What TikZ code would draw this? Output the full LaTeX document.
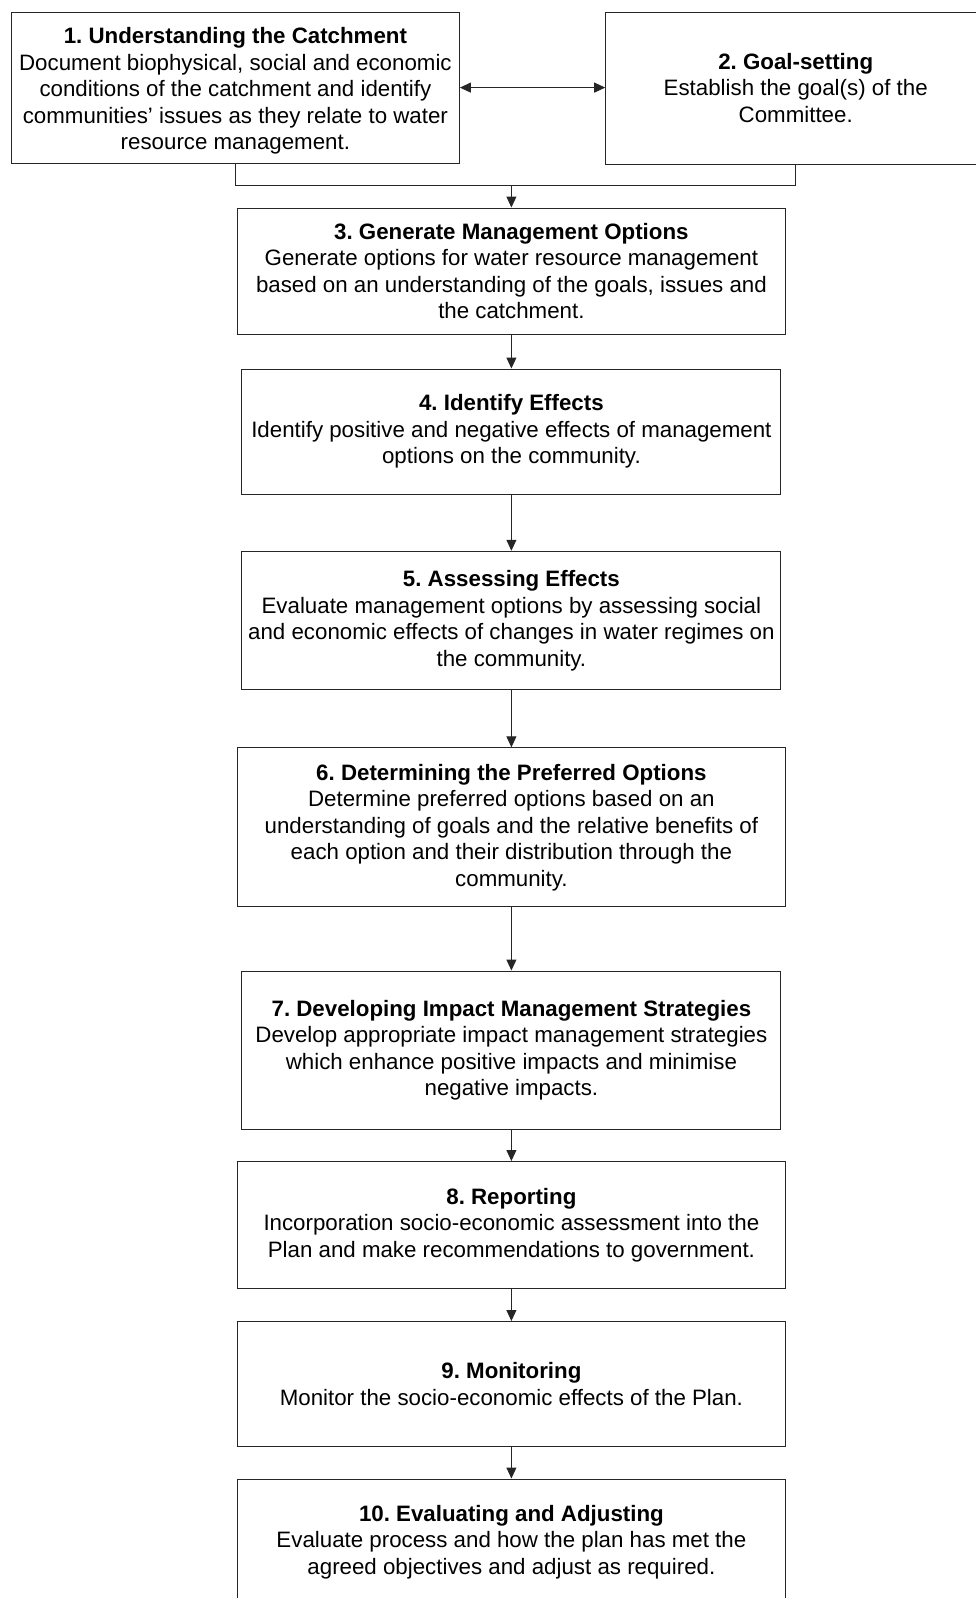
\documentclass[tikz,border=0pt]{standalone}
\usepackage{fontspec}
\setmainfont{Liberation Sans}
\usetikzlibrary{arrows.meta,positioning}
\frenchspacing

\begin{document}
\begin{tikzpicture}[
    x=1pt, y=-1pt,
    >={Triangle[length=11pt,width=10pt]},
    font=\fontsize{22.3}{26.5}\selectfont,
    stage/.style={
        draw=black!85,
        line width=1pt,
        fill=white,
        minimum width=548pt,
        minimum height=126pt,
        align=center,
        inner sep=0pt
    },
    narrow/.style={stage, minimum width=539pt},
    link/.style={draw=black!85, line width=1pt}
]
\useasboundingbox (0,0) rectangle (975,1598);
\fill[white] (0,0) rectangle (975,1598);

% top row
\node[stage, minimum width=448pt, minimum height=151pt] (catch) at (235.4,87.6)
{\\[-4pt]\textbf{1. Understanding the Catchment}\\Document biophysical, social and economic\\conditions of the catchment and identify\\communities’ issues as they relate to water\\resource management.};
\node[stage, minimum width=380pt, minimum height=152pt] (goal) at (795.7,88)
{\textbf{2. Goal-setting}\\Establish the goal(s) of the\\Committee.};

% main column
\node[stage] (opts) at (511.4,271)
{\textbf{3. Generate Management Options}\\Generate options for water resource management\\based on an understanding of the goals, issues and\\the catchment.};
\node[narrow, minimum height=125pt] (ident) at (511.4,431.5)
{\textbf{4. Identify Effects}\\Identify positive and negative effects of management\\options on the community.};
\node[narrow, minimum height=138.5pt] (assess) at (511.4,620.5)
{\textbf{5. Assessing Effects}\\Evaluate management options by assessing social\\and economic effects of changes in water regimes on\\the community.};
\node[stage, minimum height=159pt] (pref) at (511.4,827.3)
{\textbf{6. Determining the Preferred Options}\\Determine preferred options based on an\\understanding of goals and the relative benefits of\\each option and their distribution through the\\community.};
\node[narrow, minimum height=158pt] (strat) at (511.4,1050)
{\textbf{7. Developing Impact Management Strategies}\\Develop appropriate impact management strategies\\which enhance positive impacts and minimise\\negative impacts.};
\node[stage, minimum height=127pt] (report) at (511.4,1225)
{\textbf{8. Reporting}\\Incorporation socio-economic assessment into the\\Plan and make recommendations to government.};
\node[stage, minimum height=125pt] (monit) at (511.4,1384)
{\textbf{9. Monitoring}\\Monitor the socio-economic effects of the Plan.};
\node[stage] (evalu) at (511.4,1542)
{\textbf{10. Evaluating and Adjusting}\\Evaluate process and how the plan has met the\\agreed objectives and adjust as required.};

% connectors
\coordinate (join) at (511.4,185.4);
\draw[<->, link] (catch.east) -- (catch.east -| goal.west);
\draw[link] (catch.south) |- (join);
\draw[link] (goal.south) |- (join);
\draw[->, link] (join)   -- (opts);
\draw[->, link] (opts)   -- (ident);
\draw[->, link] (ident)  -- (assess);
\draw[->, link] (assess) -- (pref);
\draw[->, link] (pref)   -- (strat);
\draw[->, link] (strat)  -- (report);
\draw[->, link] (report) -- (monit);
\draw[->, link] (monit)  -- (evalu);

\end{tikzpicture}
\end{document}
